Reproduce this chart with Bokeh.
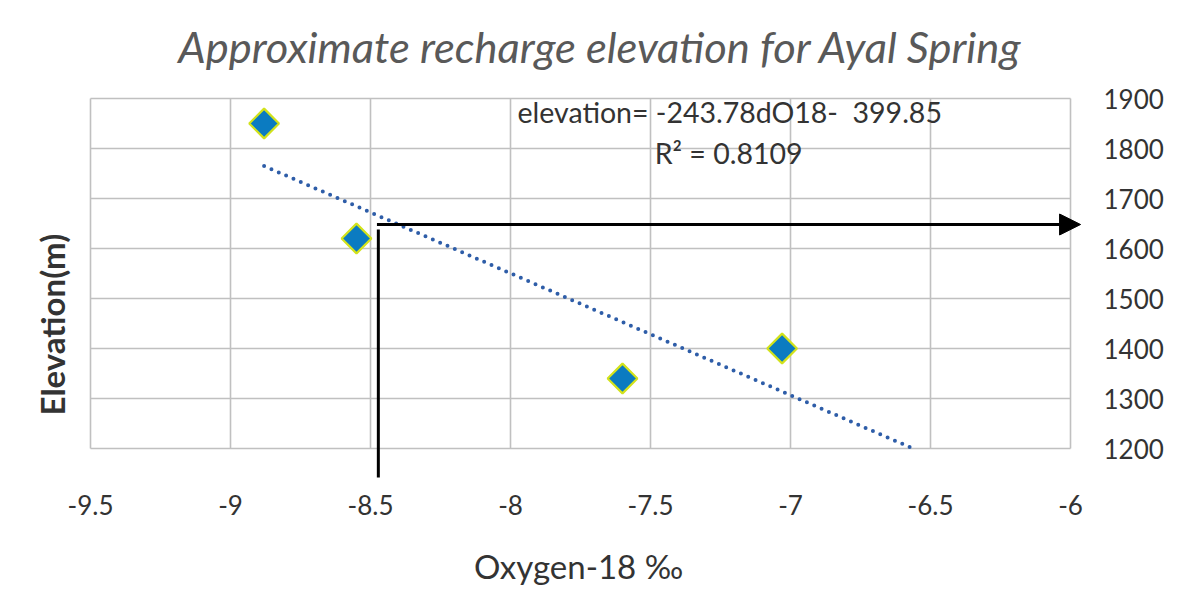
import numpy as np
from bokeh.plotting import figure
from bokeh.models import Range1d, FixedTicker, Label, Arrow, NormalHead, Title
from bokeh.embed import file_html
from bokeh.resources import INLINE

# ---- data ----
oxygen18 = [-8.88, -8.55, -7.60, -7.03]
elevation = [1850, 1620, 1340, 1400]

slope = -243.78
intercept = -399.85
trend_x = [-8.88, -6.563]

x_ticks = [-9.5, -9.0, -8.5, -8.0, -7.5, -7.0, -6.5, -6.0]
x_tick_labels = ["-9.5", "-9", "-8.5", "-8", "-7.5", "-7", "-6.5", "-6"]
y_ticks = [1200, 1300, 1400, 1500, 1600, 1700, 1800, 1900]
y_tick_labels = ["1200", "1300", "1400", "1500", "1600", "1700", "1800", "1900"]

# reading-off guide lines (arrow from the trend line to the elevation axis)
guide_x = [-8.472, -8.472]
guide_y = [1638, 1142]
arrow_x = [-8.477, -5.964]
arrow_y = [1648, 1648]

title_text = "Approximate recharge elevation for Ayal Spring"
eq_text = "elevation= -243.78dO18- \u00a0399.85"
r2_text = "R\u00b2 = 0.8109"
x_title = "Oxygen-18 \u2030"
y_title = "Elevation(m)"

FONT = "Lato"
TXT = "#333333"

p = figure(width=1176, height=590, output_backend="svg", toolbar_location=None,
           x_range=Range1d(-9.5643, -5.950), y_range=Range1d(1136, 2076),
           y_axis_location="right",
           min_border_left=72, min_border_right=92, min_border_top=10,
           min_border_bottom=110, background_fill_color="white",
           border_fill_color="white")
p.title = None
p.outline_line_color = None
p.xgrid.visible = False
p.ygrid.visible = False

p.add_layout(Title(text=y_title, align="left", offset=65, standoff=1,
                   text_font=FONT, text_font_style="bold",
                   text_font_size="33px", text_color="#333333"), "left")

# grid drawn over the labelled region only
gx0 = x_ticks[0]
gx1 = x_ticks[-1]
gy0 = y_ticks[0]
gy1 = y_ticks[-1]
p.segment(x0=x_ticks, y0=[gy0] * len(x_ticks), x1=x_ticks, y1=[gy1] * len(x_ticks),
          line_color="#c0c0c0", line_width=1.6)
p.segment(x0=[gx0] * len(y_ticks), y0=y_ticks, x1=[gx1] * len(y_ticks), y1=y_ticks,
          line_color="#c0c0c0", line_width=1.6)

# axes
xa = p.xaxis[0]
xa.ticker = FixedTicker(ticks=x_ticks)
xa.major_label_overrides = {float(t): s for t, s in zip(x_ticks, x_tick_labels)}
xa.axis_line_color = None
xa.major_tick_line_color = None
xa.minor_tick_line_color = None
xa.major_label_standoff = 8
xa.major_label_text_font = FONT
xa.major_label_text_font_size = "26px"
xa.major_label_text_color = TXT
xa.axis_label = x_title
xa.axis_label_standoff = 28
xa.axis_label_text_font = FONT
xa.axis_label_text_font_style = "normal"
xa.axis_label_text_font_size = "33px"
xa.axis_label_text_color = "#333333"

ya = p.yaxis[0]
ya.ticker = FixedTicker(ticks=y_ticks)
ya.major_label_overrides = {float(t): s for t, s in zip(y_ticks, y_tick_labels)}
ya.axis_line_color = None
ya.major_tick_line_color = None
ya.minor_tick_line_color = None
ya.major_label_standoff = 13
ya.major_label_text_font = FONT
ya.major_label_text_font_size = "26px"
ya.major_label_text_color = TXT

# trend line
trend_y = [slope * x + intercept for x in trend_x]
p.line(trend_x, trend_y, line_color="#2E5DA8", line_width=4,
       line_dash="0 8", line_cap="round")

# guide lines + arrow
p.line(guide_x, guide_y, line_color="black", line_width=3)
p.add_layout(Arrow(end=NormalHead(size=21, fill_color="black", line_color="black"),
                   x_start=arrow_x[0], y_start=arrow_y[0],
                   x_end=arrow_x[1], y_end=arrow_y[1],
                   line_color="black", line_width=3))

# points
p.scatter(oxygen18, elevation, marker="square", angle=np.pi / 4, size=21,
          fill_color="#0B7BC1", line_color="#D2E21C", line_width=2.2)

# title and equation texts
p.add_layout(Label(x=-7.679, y=2006, text=title_text, text_align="center",
                   text_baseline="alphabetic", text_font=FONT,
                   text_font_style="italic", text_font_size="43.5px",
                   text_color="#595959"))
p.add_layout(Label(x=-7.975, y=1874, text=eq_text, text_align="left",
                   text_baseline="middle", text_font=FONT,
                   text_font_size="28.5px", text_color=TXT))
p.add_layout(Label(x=-7.221, y=1792, text=r2_text, text_align="center",
                   text_baseline="middle", text_font=FONT,
                   text_font_size="28.5px", text_color=TXT))

open("out.html", "w").write(file_html(p, INLINE))
